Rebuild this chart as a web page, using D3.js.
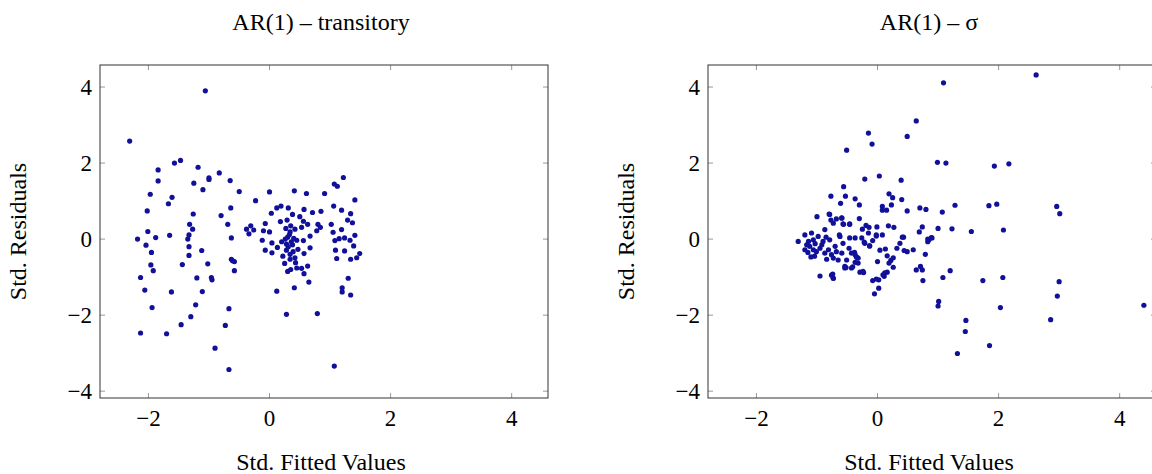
<!DOCTYPE html>
<html><head><meta charset="utf-8">
<script src="https://cdn.jsdelivr.net/npm/d3@7"></script>
<style>body{margin:0;background:#fff}text{font-family:"Liberation Serif","DejaVu Serif",serif;fill:#000}</style>
</head><body><svg id="c" width="1152" height="474"></svg>
<script>
const titles = ["AR(1) \u2013 transitory", "AR(1) \u2013 \u03C3"];
const xTicks = [-2, 0, 2, 4];
const yTicks = [-4, -2, 0, 2, 4];
const xLabel = "Std. Fitted Values";
const yLabel = "Std. Residuals";
const leftPoints = [
[-2.31,2.58],[-1.06,3.90],[-1.84,1.82],[-1.84,1.53],[-1.57,2.0],[-1.47,2.07],[-1.18,1.89],[-1.0,1.61],[-1.0,1.57],[-1.25,1.47],
[-0.83,1.74],[-0.65,1.54],[-1.10,1.30],[-0.50,1.25],[-1.97,1.18],[-1.61,1.10],[-1.67,0.93],[-2.02,0.74],[-1.26,0.66],[-0.80,0.62],
[-0.64,0.82],[-1.32,0.39],[-0.69,0.39],[-1.27,0.26],[-2.01,0.20],[-1.33,0.11],[-1.35,0.0],[-1.65,0.10],[-1.88,0.04],[-2.18,0.0],
[-0.63,0.03],[-2.04,-0.16],[-1.33,-0.2],[-1.95,-0.35],[-1.12,-0.30],[-1.33,-0.43],[-0.63,-0.53],[-0.61,-0.57],[-0.58,-0.59],[-1.96,-0.68],
[-1.92,-0.83],[-1.44,-0.67],[-1.02,-0.65],[-0.58,-0.83],[-2.13,-1.01],[-1.20,-1.02],[-0.96,-1.01],[-0.95,-1.07],[-2.06,-1.34],[-1.62,-1.39],
[-1.11,-1.38],[-1.94,-1.80],[-1.22,-1.73],[-0.67,-1.83],[-1.30,-2.04],[-1.46,-2.25],[-0.73,-2.27],[-2.13,-2.47],[-1.70,-2.49],[-0.90,-2.87],
[-0.67,-3.43],[-0.38,0.26],[-0.31,0.35],[-0.34,0.14],[-0.26,0.24],[-0.23,1.01],
[1.22,1.62],[1.07,1.45],[1.12,1.39],[0.0,1.24],[0.41,1.27],[0.61,1.20],[0.91,1.20],[1.41,1.03],[0.12,0.82],[0.19,0.87],
[0.31,0.82],[0.57,0.78],[0.71,0.70],[0.85,0.73],[1.06,0.87],[1.19,0.76],[1.34,0.67],[0.03,0.68],[0.38,0.65],[0.50,0.59],
[-0.07,0.41],[0.18,0.46],[0.29,0.50],[0.56,0.47],[0.63,0.39],[0.80,0.39],[1.02,0.39],[1.29,0.50],[1.37,0.43],[-0.10,0.22],
[0.0,0.19],[0.27,0.28],[0.34,0.19],[0.42,0.26],[0.53,0.31],[0.78,0.22],[0.84,0.31],[1.05,0.18],[1.19,0.25],[1.41,0.10],
[-0.12,-0.03],[0.04,-0.10],[0.20,-0.07],[0.28,-0.13],[0.36,-0.07],[0.45,-0.03],[0.56,-0.04],[0.67,0.08],[1.08,-0.04],[1.15,0.01],
[1.24,0.03],[1.33,-0.03],[-0.07,-0.29],[0.04,-0.36],[0.13,-0.22],[0.28,-0.29],[0.34,-0.40],[0.39,-0.33],[0.47,-0.27],[0.57,-0.38],
[0.67,-0.23],[1.09,-0.29],[1.24,-0.31],[1.39,-0.18],[1.49,-0.38],[0.34,-0.53],[0.42,-0.49],[0.25,-0.64],[1.11,-0.51],[1.34,-0.53],
[1.44,-0.49],[0.35,-0.80],[0.45,-0.76],[0.53,-0.77],[0.63,-0.71],[0.57,-0.91],[0.65,-1.13],[1.30,-1.03],[0.41,-1.28],[0.12,-1.37],
[1.20,-1.28],[1.20,-1.39],[1.34,-1.47],[0.28,-1.98],[0.79,-1.96],[1.07,-3.34],
[0.30,0.05],[0.33,0.12],[0.38,-0.15],[0.31,-0.2],[0.40,0.02],[0.26,0.0],[0.35,0.35],[0.22,-0.45],[0.43,-0.62],[0.30,-0.85]
];
const rightPoints = [
[2.62,4.32],[1.09,4.11],[0.64,3.11],[-0.15,2.79],[-0.09,2.50],[0.49,2.70],[-0.51,2.34],[0.99,2.02],[1.13,2.0],[1.93,1.92],
[2.17,1.98],[-0.21,1.58],[0.03,1.66],[0.39,1.55],[-0.56,1.38],[-0.77,1.13],[-0.53,1.13],[-0.37,1.06],[-0.61,0.94],[-0.30,0.90],
[0.19,1.19],[0.25,1.09],[0.40,1.04],[0.08,0.86],[0.08,0.76],[0.15,0.76],[0.23,0.90],[0.49,0.74],[0.70,0.82],[0.80,0.78],
[1.07,0.71],[1.28,0.89],[1.84,0.88],[1.97,0.92],[2.96,0.86],[3.01,0.67],[-0.79,0.65],[-0.59,0.56],[-0.68,0.53],[-0.77,0.50],
[-0.30,0.54],[-0.56,0.39],[-0.46,0.39],[0.18,0.35],[0.27,0.31],[0.74,0.32],[0.69,0.19],[1.00,0.28],[1.23,0.27],[1.55,0.20],
[2.08,0.24],[-0.25,0.26],[-0.14,0.31],[-0.01,0.32],[-0.19,0.36],[0.43,0.05],[0.89,0.04],[0.83,0.0],[0.08,0.11],[-0.02,0.08],
[0.41,0.05],[0.85,-0.02],[0.90,0.03],[0.83,-0.07],[0.59,-0.28],[0.49,-0.33],[0.44,-0.30],[0.79,-0.40],[0.37,-0.11],[0.32,-0.24],
[0.13,-0.26],[0.04,-0.29],[0.16,-0.44],[0.26,-0.49],[0.22,-0.56],[0.19,-0.63],[0.26,-0.74],[0,-0.59],[-0.22,-0.08],[-0.13,-0.18],
[-0.08,-0.04],[-0.38,-0.35],[-0.33,-0.49],[-0.37,-0.61],[-0.41,-0.73],[-0.52,-0.75],[-0.29,-0.87],[-0.23,-0.88],[0.64,-0.81],[0.71,-0.72],
[0.74,-0.81],[0.75,-1.09],[1.20,-0.83],[1.08,-1.01],[1.74,-1.09],[2.07,-1.01],[3.00,-1.12],[2.97,-1.50],[4.40,-1.74],[2.03,-1.80],
[2.86,-2.12],[1.01,-1.64],[1.00,-1.76],[1.46,-2.14],[1.45,-2.43],[1.85,-2.80],[1.32,-3.01],[-0.08,-1.09],[-0.02,-1.05],[0.02,-1.07],
[0.09,-0.94],[0.12,-0.89],[0.16,-0.87],[0.11,-0.98],[0.02,-1.29],[-0.05,-1.44],[-0.74,-0.92],[-0.73,-1.03],
[-1.31,-0.06],[-1.20,0.11],[-1.20,-0.28],[-1.10,-0.47],[-1.17,-0.15],[-1.12,-0.19],[-1.06,-0.28],[-1.03,-0.12],[-1.01,-0.33],[-0.98,0.07],
[-0.95,-0.24],[-0.90,-0.06],[-0.87,-0.37],[-0.84,-0.53],[-0.81,-0.28],[-0.79,-0.02],[-0.76,-0.41],[-0.73,-0.50],[-0.70,-0.19],[-0.68,-0.33],
[-0.65,-0.55],[-0.62,0.07],[-0.59,-0.37],[-0.57,-0.11],[-0.54,-0.72],[-0.51,-0.55],[-0.47,-0.24],[-0.43,-0.37],[-0.37,0.03],[-0.35,-0.47],
[-0.32,-0.63],[-0.95,-0.97],[-0.76,-0.95],[-0.73,-1.03],[-1.00,0.59],[-0.80,0.66],[-0.87,0.25],[-0.73,0.42],[-0.59,0.55],[-0.57,0.40],
[-0.46,0.40],[-0.63,0.11],[-0.46,0.03],[-0.26,0.03],[-0.21,-0.11],[-0.15,0.16],[-0.02,0.11],[-0.13,-0.18],[-0.37,-0.41],[-0.32,-0.50],
[-0.43,-0.76],[-0.24,-0.85],[-0.54,-0.76],[-1.09,0.16],[-1.06,-0.02],[-1.14,-0.06],[-1.15,-0.35],[-1.04,-0.45],[-0.92,-0.15],[-0.85,0.05]
];
const svg = d3.select("#c");
const panels = [{x0:100, pts:leftPoints, t:titles[0]}, {x0:708, pts:rightPoints, t:titles[1]}];
const W = 448, yTop = 65, yBot = 398;
panels.forEach(p => {
  const x = d3.scaleLinear().domain([-2.8, 4.6]).range([p.x0, p.x0 + W]);
  const y = d3.scaleLinear().domain([-4.18, 4.58]).range([yBot, yTop]);
  const g = svg.append("g");
  const tick = 5;
  xTicks.forEach(v => {
    g.append("line").attr("x1", x(v)).attr("x2", x(v)).attr("y1", yBot).attr("y2", yBot - tick).attr("stroke", "#999");
    g.append("line").attr("x1", x(v)).attr("x2", x(v)).attr("y1", yTop).attr("y2", yTop + tick).attr("stroke", "#999");
    g.append("text").attr("x", x(v)).attr("y", yBot + 28).attr("text-anchor", "middle").attr("font-size", 23).text(v < 0 ? "\u2212" + (-v) : v);
  });
  yTicks.forEach(v => {
    g.append("line").attr("y1", y(v)).attr("y2", y(v)).attr("x1", p.x0).attr("x2", p.x0 + tick).attr("stroke", "#999");
    g.append("line").attr("y1", y(v)).attr("y2", y(v)).attr("x1", p.x0 + W).attr("x2", p.x0 + W - tick).attr("stroke", "#999");
    g.append("text").attr("x", p.x0 - 8).attr("y", y(v) + 8).attr("text-anchor", "end").attr("font-size", 23).text(v < 0 ? "\u2212" + (-v) : v);
  });
  g.append("rect").attr("x", p.x0).attr("y", yTop).attr("width", W).attr("height", yBot - yTop).attr("fill", "none").attr("stroke", "#333").attr("stroke-width", 1);
  g.selectAll("circle").data(p.pts).join("circle").attr("cx", d => x(d[0])).attr("cy", d => y(d[1])).attr("r", 2.6).attr("fill", "#10109a");
  g.append("text").attr("x", p.x0 + W/2 - 3).attr("y", 30).attr("text-anchor", "middle").attr("font-size", 24).text(p.t);
  g.append("text").attr("x", p.x0 + W/2 - 3).attr("y", 470).attr("text-anchor", "middle").attr("font-size", 24).text(xLabel);
  g.append("text").attr("transform", `translate(${p.x0 - 74},${(yTop + yBot)/2}) rotate(-90)`).attr("text-anchor", "middle").attr("font-size", 24).text(yLabel);
});
</script></body></html>
